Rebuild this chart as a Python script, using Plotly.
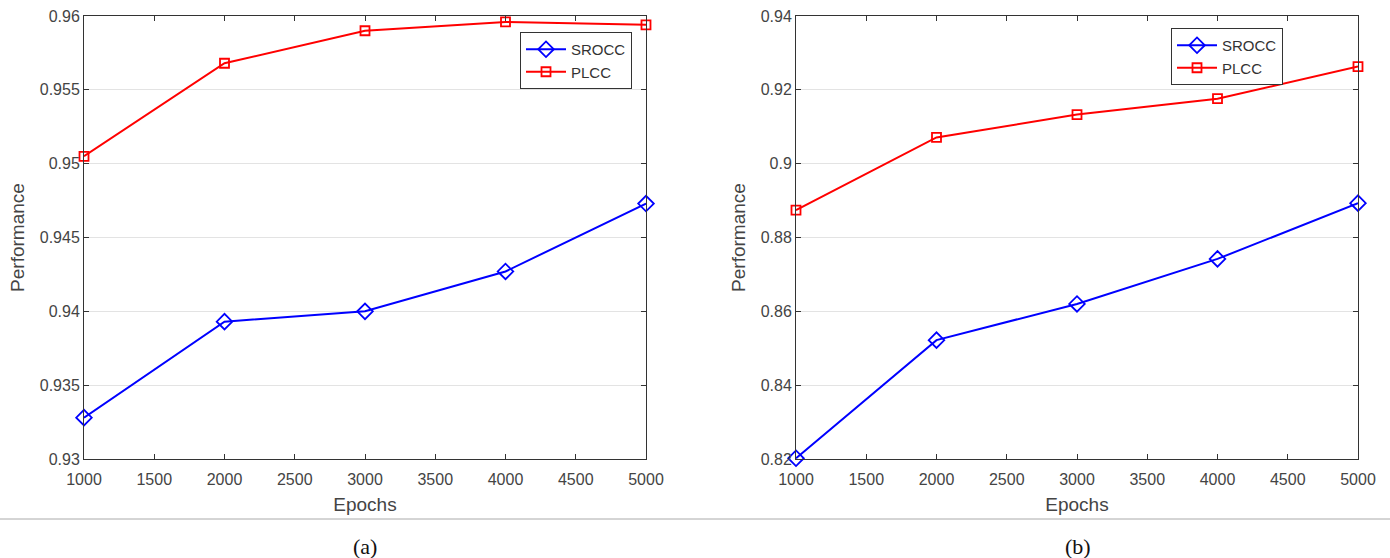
import plotly.graph_objects as go

epochs = [1000, 2000, 3000, 4000, 5000]
a_srocc = [0.9328, 0.9393, 0.9400, 0.9427, 0.9473]
a_plcc = [0.9505, 0.9568, 0.9590, 0.9596, 0.9594]
b_srocc = [0.8202, 0.8522, 0.8620, 0.8742, 0.8893]
b_plcc = [0.8874, 0.9071, 0.9133, 0.9176, 0.9263]
x_ticks = [1000, 1500, 2000, 2500, 3000, 3500, 4000, 4500, 5000]
a_yticks = [0.93, 0.935, 0.94, 0.945, 0.95, 0.955, 0.96]
b_yticks = [0.82, 0.84, 0.86, 0.88, 0.9, 0.92, 0.94]

W, H = 1390, 558
def px(x): return x / W
def py(y): return 1 - y / H

fig = go.Figure()
blue = "#0000ff"
red = "#ff0000"

def add(xax, yax, leg, ys, name, color, symbol):
    fig.add_trace(go.Scatter(
        x=epochs, y=ys, name=name, mode="lines+markers",
        line=dict(color=color, width=2),
        marker=dict(symbol=symbol, size=12 if symbol.startswith("diamond") else 9,
                    color=color, line=dict(color=color, width=1.8)),
        cliponaxis=False,
        xaxis=xax, yaxis=yax, legend=leg))

add("x", "y", "legend", a_srocc, "SROCC", blue, "diamond-open")
add("x", "y", "legend", a_plcc, "PLCC", red, "square-open")
add("x2", "y2", "legend2", b_srocc, "SROCC", blue, "diamond-open")
add("x2", "y2", "legend2", b_plcc, "PLCC", red, "square-open")

sans = "Liberation Sans, Arial, sans-serif"
font = dict(family=sans, size=16, color="#444")
title_font = dict(family=sans, size=19, color="#444")
axis_common = dict(showline=True, linecolor="#333", linewidth=1, mirror="ticks",
                   ticks="inside", ticklen=5, tickcolor="#333", zeroline=False,
                   tickfont=font, automargin=False)

xcommon = dict(range=[1000, 5000], tickvals=x_ticks, showgrid=False,
               ticklabelstandoff=6,
               title=dict(text="Epochs", font=title_font, standoff=10))

fig.update_layout(
    width=W, height=H, margin=dict(l=0, r=0, t=0, b=0),
    paper_bgcolor="white", plot_bgcolor="white",
    font=font,
    xaxis=dict(domain=[px(84), px(646)], anchor="y", **xcommon, **axis_common),
    yaxis=dict(domain=[py(459), py(16)], range=[0.93, 0.96], tickvals=a_yticks,
               showgrid=True, gridcolor="#e3e3e3", gridwidth=1,
               title=dict(text="Performance", font=title_font, standoff=10),
               anchor="x", **axis_common),
    xaxis2=dict(domain=[px(796), px(1358)], anchor="y2", **xcommon, **axis_common),
    yaxis2=dict(domain=[py(459), py(16)], range=[0.82, 0.94], tickvals=b_yticks,
                showgrid=True, gridcolor="#e3e3e3", gridwidth=1,
                title=dict(text="Performance", font=title_font, standoff=10),
                anchor="x2", **axis_common),
    legend=dict(x=px(520), y=py(32), xanchor="left", yanchor="top",
                bordercolor="#333", borderwidth=1, bgcolor="white",
                font=dict(family=sans, size=15, color="#333"),
                tracegroupgap=0, itemwidth=40),
    legend2=dict(x=px(1171), y=py(28), xanchor="left", yanchor="top",
                 bordercolor="#333", borderwidth=1, bgcolor="white",
                 font=dict(family=sans, size=15, color="#333"),
                 tracegroupgap=0, itemwidth=40),
    shapes=[dict(type="line", xref="paper", yref="paper", x0=0, x1=1,
                 y0=py(519), y1=py(519), line=dict(color="#aaaaaa", width=1))],
    annotations=[
        dict(text="(a)", x=px(365), y=py(546), xref="paper", yref="paper",
             xanchor="center", yanchor="middle",
             showarrow=False, font=dict(family="Liberation Serif, Times New Roman, serif", size=22, color="#111")),
        dict(text="(b)", x=px(1078), y=py(546), xref="paper", yref="paper",
             xanchor="center", yanchor="middle",
             showarrow=False, font=dict(family="Liberation Serif, Times New Roman, serif", size=22, color="#111")),
    ],
)

fig.write_html("out.html")
